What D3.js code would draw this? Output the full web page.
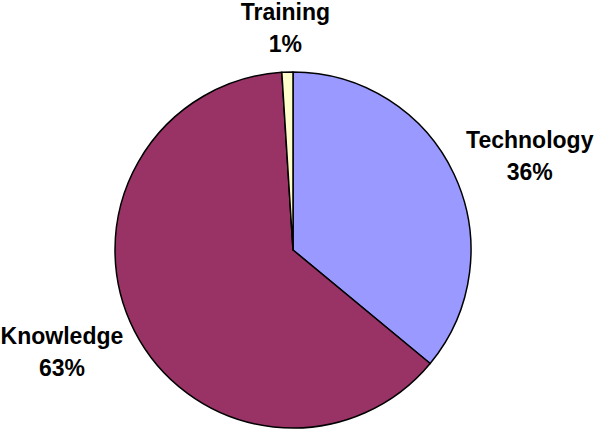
<!DOCTYPE html>
<html>
<head>
<meta charset="utf-8">
<script src="https://cdn.jsdelivr.net/npm/d3@7"></script>
<style>
  body { margin: 0; background: #fff; }
  text { font-family: "Liberation Sans", Arial, sans-serif; font-weight: bold; font-size: 23px; fill: #000; }
</style>
</head>
<body>
<div id="chart"></div>
<script>
// Data
const categories = ['Technology', 'Knowledge', 'Training'];
const shares = [36, 63, 1];
const colors = ['#9999ff', '#993366', '#ffffcc'];

// Constants
const WIDTH = 595;
const HEIGHT = 430;
const CX = 293;
const CY = 250;
const RADIUS = 178;
const GAP = 20;
const LINE = 32;
const CAP = 17;

const svg = d3.select('#chart')
    .append('svg').attr('width', WIDTH).attr('height', HEIGHT);

const pie = d3.pie().sort(null).value(d => d);
const arcs = pie(shares);
const arc = d3.arc().innerRadius(0).outerRadius(RADIUS);

const g = svg.append('g').attr('transform', `translate(${CX},${CY})`);

g.selectAll('path')
    .data(arcs)
    .join('path')
    .attr('d', arc)
    .attr('fill', (d, i) => colors[i])
    .attr('stroke', '#000')
    .attr('stroke-width', 1.5)
    .attr('stroke-linejoin', 'round');

// Labels: box placed just outside the pie along each slice's mid angle
arcs.forEach((d, i) => {
    const mid = (d.startAngle + d.endAngle) / 2;
    const dx = Math.sin(mid);
    const dy = -Math.cos(mid);
    const lab = g.append('g');
    const t1 = lab.append('text').attr('text-anchor', 'middle').text(categories[i]);
    const t2 = lab.append('text').attr('text-anchor', 'middle').text(shares[i] + '%');
    const w = Math.max(t1.node().getComputedTextLength(), t2.node().getComputedTextLength());
    const h = LINE + CAP;
    const x = dx * (RADIUS + GAP) + dx * w / 2;
    const y = dy * (RADIUS + GAP) + dy * h / 2;
    t1.attr('x', x).attr('y', y - h / 2 + CAP);
    t2.attr('x', x).attr('y', y - h / 2 + CAP + LINE);
});
</script>
</body>
</html>
